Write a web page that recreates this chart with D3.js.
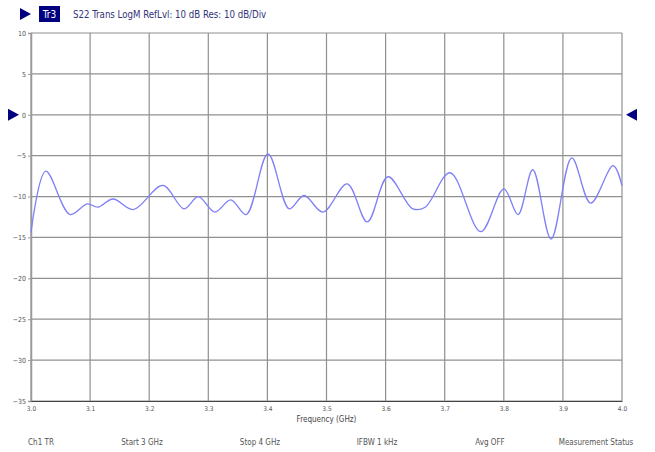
<!DOCTYPE html>
<html><head><meta charset="utf-8">
<script src="https://cdn.jsdelivr.net/npm/d3@7"></script>
<style>body{margin:0;background:#fff;} svg{display:block;}</style>
</head><body>
<svg id="c" width="655" height="452"></svg>
<script>
const freqs = [3.000,3.025,3.066,3.095,3.113,3.139,3.173,3.223,3.259,3.283,3.311,3.338,3.364,3.401,3.437,3.462,3.494,3.535,3.569,3.604,3.646,3.667,3.709,3.761,3.800,3.824,3.849,3.880,3.915,3.947,3.985,4.000];
const dbVals = [-14.4,-6.9,-12.2,-10.9,-11.3,-10.3,-11.6,-8.64,-11.5,-10.0,-11.9,-10.4,-12.2,-4.77,-11.5,-9.87,-11.9,-8.44,-13.1,-7.58,-11.5,-11.3,-7.09,-14.3,-9.05,-12.2,-6.72,-15.2,-5.26,-10.8,-6.23,-8.68];
const xTicks = [3.0,3.1,3.2,3.3,3.4,3.5,3.6,3.7,3.8,3.9,4.0];
const yTicks = [10,5,0,-5,-10,-15,-20,-25,-30,-35];
const footer = ["Ch1 TR","Start 3 GHz","Stop 4 GHz","IFBW 1 kHz","Avg OFF","Measurement Status"];
const footerX = [41,142,260,377,490,596];
const title = "S22 Trans LogM RefLvl: 10 dB Res: 10 dB/Div";
const traceName = "Tr3";
const xLabel = "Frequency (GHz)";

const svg = d3.select("#c");
const L=31, R=622, T=33, B=401;
const x = d3.scaleLinear().domain([3.0,4.0]).range([L,R]);
const y = d3.scaleLinear().domain([-35,10]).range([B,T]);
const font = "'DejaVu Sans Condensed','DejaVu Sans',sans-serif";

// grid
const g = svg.append("g");
g.selectAll(".vg").data(xTicks).join("line")
  .attr("x1",d=>x(d)).attr("x2",d=>x(d)).attr("y1",T).attr("y2",B)
  .attr("stroke","#909090").attr("stroke-width",1.2);
g.selectAll(".hg").data(yTicks).join("line")
  .attr("x1",L).attr("x2",R).attr("y1",d=>y(d)).attr("y2",d=>y(d))
  .attr("stroke","#909090").attr("stroke-width",1.2);

// axes
const ya = d3.axisLeft(y).tickValues(yTicks).tickSize(3).tickPadding(2).tickFormat(d3.format("d"));
const yg = svg.append("g").attr("transform",`translate(${L},0)`).call(ya);
yg.select(".domain").attr("stroke","#999").attr("stroke-width",1.5);
yg.selectAll(".tick line").attr("stroke","#999");
yg.selectAll("text").attr("font-family",font).attr("font-size",7).attr("fill","#555");

const xa = d3.axisBottom(x).tickValues(xTicks).tickSize(0).tickPadding(5).tickFormat(d3.format(".1f"));
const xg = svg.append("g").attr("transform",`translate(0,${B})`).call(xa);
xg.select(".domain").attr("stroke","#444").attr("stroke-width",1.2);
xg.selectAll("text").attr("font-family",font).attr("font-size",6.5).attr("fill","#555");

svg.append("text").attr("x",(L+R)/2).attr("y",422).attr("text-anchor","middle")
  .attr("font-family",font).attr("font-size",8).attr("fill","#444").text(xLabel);

// trace
const pts = freqs.map((f,i)=>[f,dbVals[i]]);
svg.append("path").datum(pts)
  .attr("d",d3.line().x(d=>x(d[0])).y(d=>y(d[1])).curve(d3.curveCatmullRom.alpha(0.5)))
  .attr("fill","none").attr("stroke","#7f7ff7").attr("stroke-width",1.3);

// header
svg.append("path").attr("d",`M20,8 L31,14 L20,20 Z`).attr("fill","#000080");
svg.append("rect").attr("x",39).attr("y",6).attr("width",21).attr("height",16).attr("fill","#000080");
svg.append("text").attr("x",49.5).attr("y",18).attr("text-anchor","middle")
  .attr("font-family",font).attr("font-size",10).attr("fill","#fff").text(traceName);
svg.append("text").attr("x",73).attr("y",18)
  .attr("font-family",font).attr("font-size",9.6).attr("fill","#33337a").text(title);

// reference markers
svg.append("path").attr("d",`M8,${y(0)-6} L19,${y(0)} L8,${y(0)+6} Z`).attr("fill","#000080");
svg.append("path").attr("d",`M637,${y(0)-6} L626,${y(0)} L637,${y(0)+6} Z`).attr("fill","#000080");

// footer
svg.selectAll(".ft").data(footer).join("text")
  .attr("x",(d,i)=>footerX[i]).attr("y",445).attr("text-anchor","middle")
  .attr("font-family",font).attr("font-size",8).attr("fill","#555").text(d=>d);
</script>
</body></html>
